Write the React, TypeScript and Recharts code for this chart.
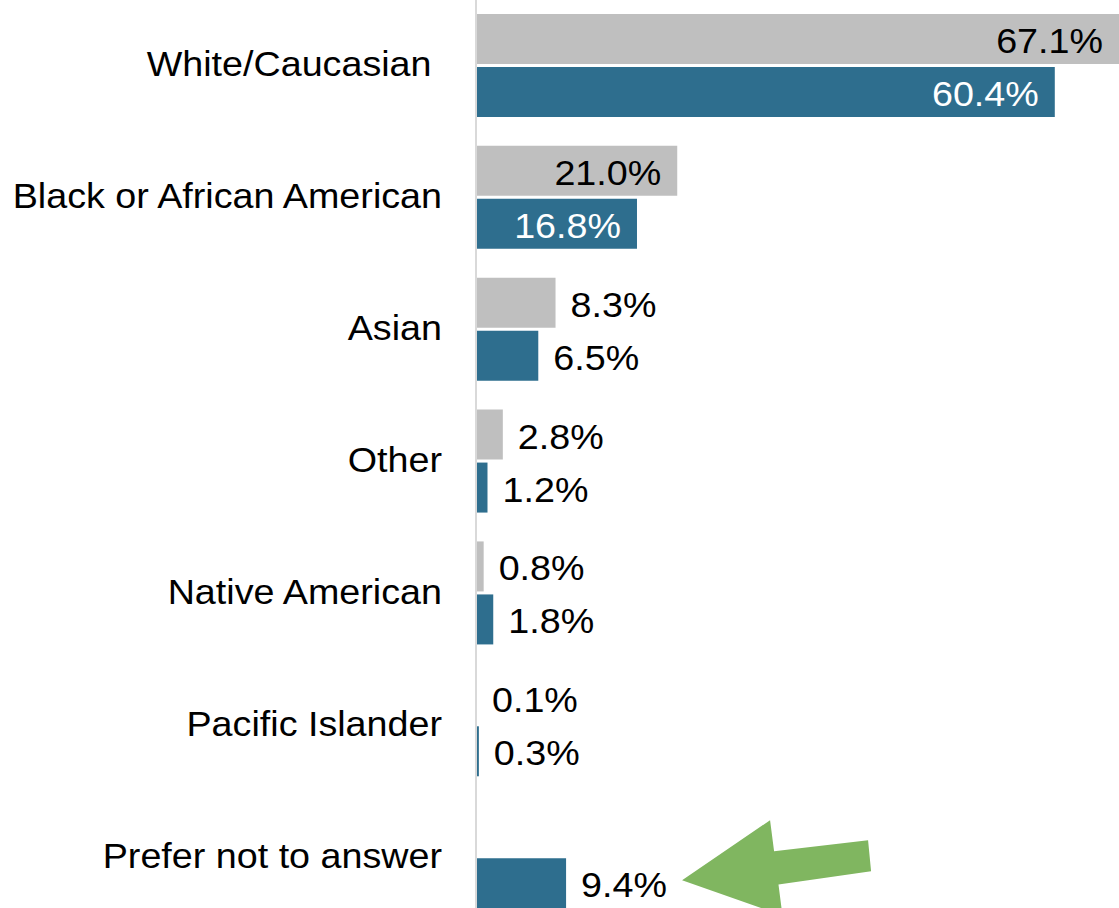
import { BarChart, Bar, XAxis, YAxis, LabelList } from 'recharts';

const categories = [
  'White/Caucasian ',
  'Black or African American',
  'Asian',
  'Other',
  'Native American',
  'Pacific Islander',
  'Prefer not to answer',
];
const grayValues: (number | null)[] = [67.1, 21.0, 8.3, 2.8, 0.8, 0.1, null];
const blueValues: (number | null)[] = [60.4, 16.8, 6.5, 1.2, 1.8, 0.3, 9.4];

const GRAY = '#BFBFBF';
const BLUE = '#2E6E8E';
const GREEN = '#80B660';
const FONT = '"Liberation Sans", Arial, sans-serif';
const STRETCH = 1.047;

const chartData = categories.map((name, i) => ({
  name,
  gray: grayValues[i],
  blue: blueValues[i],
}));

// text in the original is a touch wider than it is tall
function WideText({ x, y, dy, anchor, fill, children }: any) {
  return (
    <text
      transform={`translate(${x},${y}) scale(${STRETCH},1)`}
      x={0}
      y={0}
      dy={dy}
      textAnchor={anchor}
      fontFamily={FONT}
      fontSize={36}
      fill={fill}
      style={{ whiteSpace: 'pre' }}
    >
      {children}
    </text>
  );
}

function CategoryTick(props: any) {
  const { x, y, payload } = props;
  return (
    <WideText x={x} y={y} dy={10.5} anchor="end" fill="#000">
      {payload.value}
    </WideText>
  );
}

function makeLabel(insideColor: string, withArrow: boolean) {
  return function ValueLabel(props: any) {
    const { x, y, width, height, value, index } = props;
    if (value == null) return null;
    const cy = y + height / 2;
    const end = x + width;
    const inside = value >= 15;
    const text = (
      <WideText
        x={inside ? end - 16 : end + 15}
        y={cy}
        dy={14}
        anchor={inside ? 'end' : 'start'}
        fill={inside ? insideColor : '#000'}
      >
        {`${Number(value).toFixed(1)}%`}
      </WideText>
    );
    if (!withArrow || index !== categories.length - 1) return text;
    const pts = [
      [116, -3],
      [204, -63],
      [208, -32],
      [302, -43],
      [305, -12],
      [212.4, 1.4],
      [216.4, 32.4],
    ]
      .map(([dx, dy]) => `${end + dx},${cy + dy}`)
      .join(' ');
    return (
      <g>
        {text}
        <polygon points={pts} fill={GREEN} />
      </g>
    );
  };
}

export default function App() {
  return (
    <div
      style={{
        position: 'absolute',
        left: 0,
        top: 0,
        width: 1119,
        height: 908,
        overflow: 'hidden',
        background: '#fff',
      }}
    >
      <BarChart
        width={1119}
        height={923}
        data={chartData}
        layout="vertical"
        margin={{ top: 0, right: 0, bottom: 0, left: 0 }}
        barSize={50}
        barGap={3}
      >
        <XAxis type="number" domain={[0, 66.6]} hide />
        <YAxis
          type="category"
          dataKey="name"
          width={476}
          tickLine={false}
          tickSize={0}
          tickMargin={34}
          axisLine={{ stroke: '#D9D9D9', strokeWidth: 2 }}
          tick={<CategoryTick />}
          interval={0}
        />
        <Bar dataKey="gray" fill={GRAY} isAnimationActive={false}>
          <LabelList dataKey="gray" content={makeLabel('#000', false)} />
        </Bar>
        <Bar dataKey="blue" fill={BLUE} isAnimationActive={false}>
          <LabelList dataKey="blue" content={makeLabel('#fff', true)} />
        </Bar>
      </BarChart>
    </div>
  );
}
